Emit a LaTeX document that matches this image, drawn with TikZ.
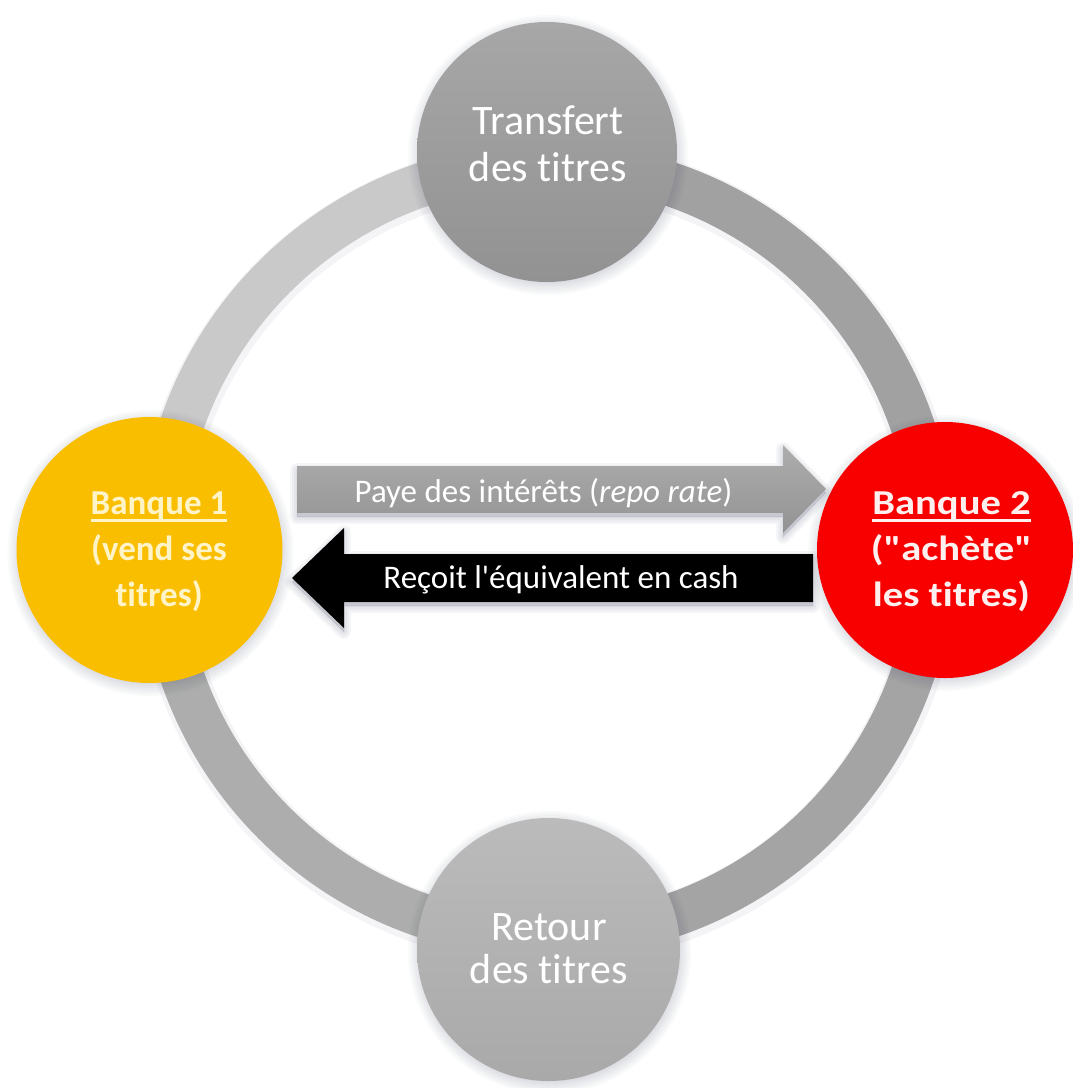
\documentclass[tikz,border=0pt]{standalone}
\usepackage{fontspec}
\setmainfont{Carlito}[Ligatures={TeXOff,NoCommon}]
\definecolor{ringA}{HTML}{C9C9C9}
\definecolor{ringB}{HTML}{A1A1A1}
\definecolor{ringC}{HTML}{A4A4A4}
\definecolor{ringD}{HTML}{ADADAD}
\definecolor{topTop}{HTML}{A7A7A7}
\definecolor{topBot}{HTML}{929292}
\definecolor{botTop}{HTML}{BBBBBB}
\definecolor{botBot}{HTML}{A9A9A9}
\definecolor{bankY}{HTML}{FABE00}
\definecolor{bankR}{HTML}{F80000}
\definecolor{creamY}{HTML}{FFF4C8}
\definecolor{creamR}{HTML}{FFF0F0}
\definecolor{arrowTop}{HTML}{ADADAD}
\definecolor{arrowBot}{HTML}{939393}
\definecolor{shadowcol}{HTML}{283050}
\newcommand\myul[1]{\setbox0\hbox{#1}\rlap{\rule[-7pt]{\wd0}{2.6pt}}\box0}
\newcommand\grayarrowpath{(297,466) -- (783,466) -- (783,445) -- (826,489) -- (783,533) -- (783,513) -- (297,513) -- cycle}
\newcommand\blackarrowpath{(813,554) -- (344,554) -- (344,528) -- (292,578) -- (344,628) -- (344,602) -- (813,602) -- cycle}
\begin{document}
\begin{tikzpicture}[x=1pt,y=-1pt,
  ringseg/.style={line width=44pt},
  ringshade/.style={line width=52pt, shadowcol, opacity=0.05},
  glow/.style={fill=shadowcol, opacity=0.022},
  stepcircle/.style={circle, inner sep=0pt},
  steptext/.style={align=center, text=white, inner sep=0pt},
  banktext/.style={align=center, inner sep=0pt, font=\fontsize{35}{46}\selectfont\bfseries},
  arrowtext/.style={anchor=base, text=white, inner sep=0pt, font=\fontsize{33}{40}\selectfont}
]
\fill[white] (0,0) rectangle (1073,1088);
\useasboundingbox (0,0) rectangle (1073,1088);
\coordinate (c) at (547,550);
\coordinate (ptop) at (547,152);
\coordinate (pbot) at (548.5,949.5);
\coordinate (pb1) at (149.5,550);
\coordinate (pb2) at (945,550);
% ring segments
\foreach \s/\e/\col in {180/270/ringA, 270/360/ringB, 0/90/ringC, 90/180/ringD}{
  \draw[ringshade] ([shift={(\s:386)},xshift=1pt,yshift=-3pt]c) arc (\s:\e:386);
  \draw[ringseg, \col] ([shift={(\s:386)}]c) arc (\s:\e:386);
}
% soft shadows of the circles
\foreach \p/\r in {ptop/130, pbot/131.5, pb1/133, pb2/128}{
  \foreach \k in {-2,0,...,10}{
    \fill[glow] ([xshift=1pt,yshift=-3pt]\p) circle (\r+\k);
  }
}
% circles
\node[stepcircle, minimum size=260pt, top color=topTop, bottom color=topBot] (top) at (ptop) {};
\node[stepcircle, minimum size=263pt, top color=botTop, bottom color=botBot] (bot) at (pbot) {};
\node[stepcircle, minimum size=266pt, fill=bankY] (b1) at (pb1) {};
\node[stepcircle, minimum size=256pt, fill=bankR] (b2) at (pb2) {};
% circle texts
\node[steptext, font=\fontsize{42}{47}\selectfont] (topt) at (548,144) {Transfert\\des titres};
\node[steptext, font=\fontsize{42}{43}\selectfont] (bott) at (549,949) {Retour\\des titres};
\node[banktext, text=creamY] (b1t) at (159,552) {\myul{Banque 1}\\(vend ses\\titres)};
\node[banktext, text=creamR, xscale=1.16, transform shape] (b2t) at (951.5,552) {\myul{Banque 2}\\("achète"\\les titres)};
% arrow shadows
\foreach \w in {2,6,10,14}{
  \draw[shadowcol, opacity=0.04, line width=\w pt, line join=round, fill opacity=0.04, fill=shadowcol]
    [yshift=-4pt] \grayarrowpath;
  \draw[shadowcol, opacity=0.04, line width=\w pt, line join=round, fill opacity=0.04, fill=shadowcol]
    [yshift=-4pt] \blackarrowpath;
}
% arrows
\path[top color=arrowTop, bottom color=arrowBot] \grayarrowpath;
\path[fill=black] \blackarrowpath;
\node[arrowtext] (pay) at (543.5,502) {Paye des intérêts (\textit{repo rate})};
\node[arrowtext] (rec) at (561,588) {Reçoit l'équivalent en cash};
\end{tikzpicture}
\end{document}
